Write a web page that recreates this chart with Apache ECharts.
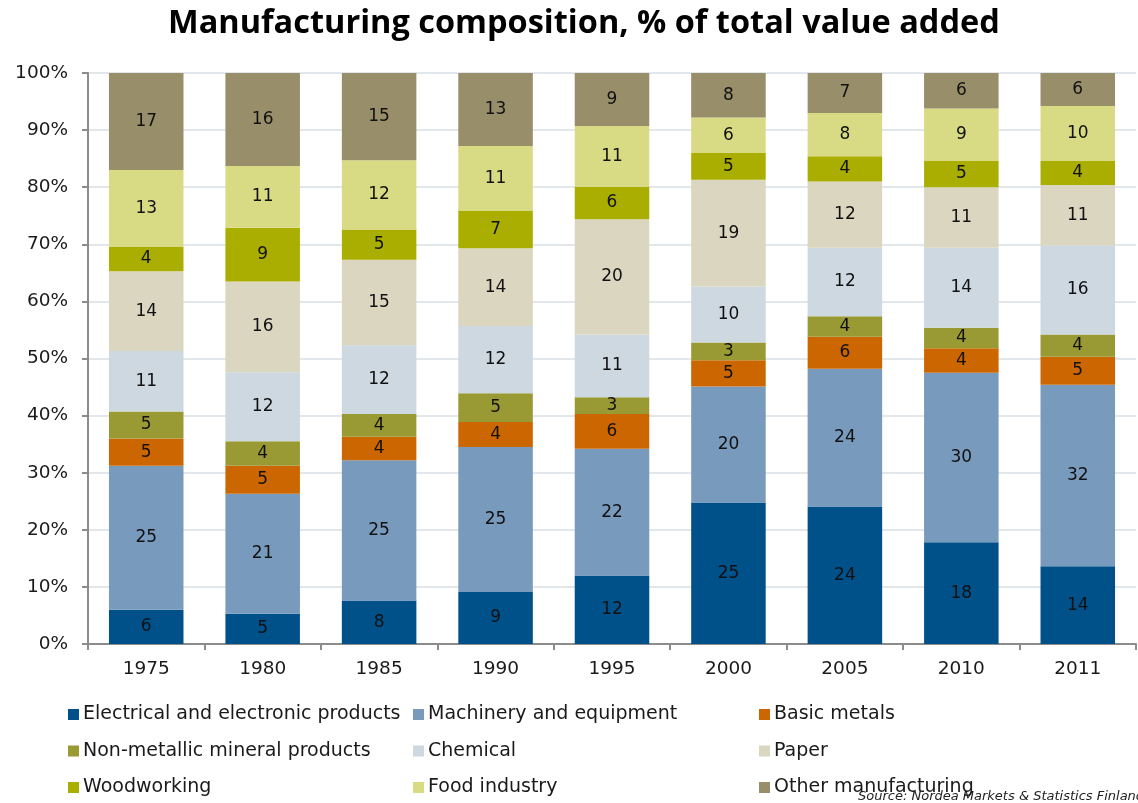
<!DOCTYPE html>
<html>
<head>
<meta charset="utf-8">
<title>Manufacturing composition</title>
<script src="https://cdn.jsdelivr.net/npm/echarts@6/dist/echarts.min.js"></script>
<style>
  html, body { margin: 0; padding: 0; background: #ffffff; }
  #chart { width: 1138px; height: 803px; }
</style>
</head>
<body>
<div id="chart"></div>
<script>
// Share of total manufacturing value added, percent
const years = ['1975', '1980', '1985', '1990', '1995', '2000', '2005', '2010', '2011'];

const electrical   = [6.0, 5.3, 7.6, 9.1, 12.0, 24.8, 24.1, 17.8, 13.6];
const machinery    = [25.2, 21.0, 24.6, 25.4, 22.2, 20.3, 24.1, 29.7, 31.8];
const basicMetals  = [4.8, 4.9, 4.1, 4.4, 6.1, 4.6, 5.6, 4.3, 4.9];
const nonMetallic  = [4.7, 4.3, 4.0, 5.0, 2.9, 3.1, 3.6, 3.6, 3.9];
const chemical     = [10.6, 12.1, 12.0, 11.8, 11.0, 9.8, 12.0, 14.0, 15.6];
const paper        = [14.0, 15.9, 15.0, 13.6, 20.2, 18.7, 11.6, 10.6, 10.6];
const woodworking  = [4.3, 9.4, 5.3, 6.6, 5.7, 4.7, 4.4, 4.6, 4.2];
const food         = [13.4, 10.8, 12.1, 11.3, 10.6, 6.2, 7.6, 9.2, 9.6];
const other        = [17.0, 16.3, 15.3, 12.8, 9.3, 7.8, 7.0, 6.2, 5.8];

const yTicks = [0, 10, 20, 30, 40, 50, 60, 70, 80, 90, 100];

const seriesDefs = [
  { name: 'Electrical and electronic products', data: electrical,  color: '#00518a' },
  { name: 'Machinery and equipment',            data: machinery,   color: '#789abd' },
  { name: 'Basic metals',                       data: basicMetals, color: '#cc6600' },
  { name: 'Non-metallic mineral products',      data: nonMetallic, color: '#9a9a35' },
  { name: 'Chemical',                           data: chemical,    color: '#cdd8e0' },
  { name: 'Paper',                              data: paper,       color: '#dbd6c0' },
  { name: 'Woodworking',                        data: woodworking, color: '#a9ae00' },
  { name: 'Food industry',                      data: food,        color: '#d8db84' },
  { name: 'Other manufacturing',                data: other,       color: '#988e6a' }
];

const font = 'DejaVu Sans, Verdana, sans-serif';

const chart = echarts.init(document.getElementById('chart'), null, { renderer: 'canvas' });

// Legend laid out as three columns of three entries
const legendColumn = (names, left) => ({
  orient: 'vertical',
  left: left,
  top: 705,
  padding: 0,
  itemWidth: 11,
  itemHeight: 11,
  itemGap: 17.5,
  icon: 'rect',
  selectedMode: false,
  data: names,
  textStyle: { fontFamily: font, fontSize: 19, color: '#1a1a1a', lineHeight: 19, padding: [0, 0, 0, -1] }
});

const option = {
  animation: false,
  backgroundColor: '#ffffff',
  title: {
    text: 'Manufacturing composition, % of total value added',
    left: 163,
    top: 2,
    textStyle: { fontFamily: 'Open Sans, sans-serif', fontWeight: 'bold', fontSize: 32.5, color: '#000000' }
  },
  legend: [
    legendColumn([seriesDefs[0].name, seriesDefs[3].name, seriesDefs[6].name], 68),
    legendColumn([seriesDefs[1].name, seriesDefs[4].name, seriesDefs[7].name], 413),
    legendColumn([seriesDefs[2].name, seriesDefs[5].name, seriesDefs[8].name], 759)
  ],
  graphic: [{
    type: 'text',
    left: 858,
    top: 790,
    style: {
      text: 'Source: Nordea Markets & Statistics Finland',
      fontFamily: font,
      fontSize: 13,
      fontStyle: 'italic',
      fill: '#222222'
    }
  }],
  grid: { left: 88, right: 2, top: 73, bottom: 159, containLabel: false },
  xAxis: {
    type: 'category',
    data: years,
    axisLine: { lineStyle: { color: '#8c8c8c', width: 2 } },
    axisTick: { show: true, length: 6, alignWithLabel: false, lineStyle: { color: '#8c8c8c', width: 2 } },
    axisLabel: { fontFamily: font, fontSize: 18.5, color: '#1a1a1a', margin: 16 }
  },
  yAxis: {
    type: 'value',
    min: yTicks[0],
    max: yTicks[yTicks.length - 1],
    interval: yTicks[1] - yTicks[0],
    axisLine: { show: true, lineStyle: { color: '#8c8c8c', width: 2 } },
    axisTick: { show: true, length: 6, lineStyle: { color: '#8c8c8c', width: 2 } },
    axisLabel: { fontFamily: font, fontSize: 18.5, color: '#1a1a1a', margin: 20, formatter: v => v + '%' },
    splitLine: { show: true, lineStyle: { color: '#e2e7ec', width: 2 } }
  },
  series: seriesDefs.map(s => ({
    name: s.name,
    type: 'bar',
    stack: 'total',
    barWidth: '64%',
    data: s.data,
    itemStyle: { color: s.color },
    label: {
      show: true,
      position: 'inside',
      fontFamily: font,
      fontSize: 17,
      color: '#111111',
      formatter: p => String(Math.round(p.value))
    },
    emphasis: { disabled: true }
  }))
};

chart.setOption(option);
</script>
</body>
</html>
